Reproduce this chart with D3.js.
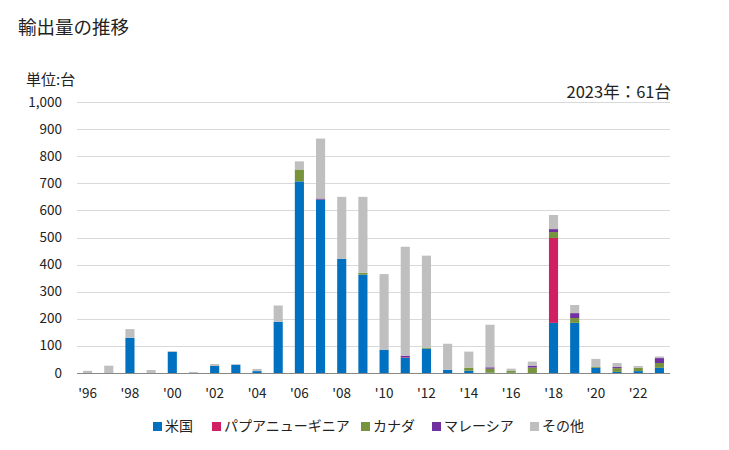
<!DOCTYPE html>
<html><head><meta charset="utf-8">
<script src="https://cdn.jsdelivr.net/npm/d3@7"></script>
<style>body{margin:0;background:#fff;font-family:"Noto Sans CJK JP","Noto Sans",sans-serif;}</style>
</head><body><svg id="c" width="729" height="450"></svg>
<script>
const years = ["1996","1997","1998","1999","2000","2001","2002","2003","2004","2005","2006","2007","2008","2009","2010","2011","2012","2013","2014","2015","2016","2017","2018","2019","2020","2021","2022","2023"];
const seriesNames = ["米国","パプアニューギニア","カナダ","マレーシア","その他"];
const colors = ["#0070C0","#D01F62","#77933C","#7030A0","#BFBFBF"];
const us       = [0,0,130,0,78,0,26,30,7,189,707,641,421,363,86,57,90,12,8,1,1,0,185,185,19,4,7,19];
const png      = [0,0,0,0,0,0,0,0,0,0,0,3,0,0,0,2,0,0,0,0,0,0,313,0,0,0,0,0];
const canada   = [0,0,0,0,0,0,0,0,0,0,44,0,0,7,0,0,4,0,12,15,8,20,22,18,3,14,12,18];
const malaysia = [0,0,0,0,0,0,0,0,0,0,0,0,0,0,0,5,0,0,0,5,0,7,11,18,0,4,0,18];
const other    = [8,27,32,11,3,4,7,3,8,60,30,221,229,280,279,402,339,96,59,157,7,15,52,30,30,15,7,6];
const yTicks = [0,100,200,300,400,500,600,700,800,900,1000];
const xTickYears = ["1996","1998","2000","2002","2004","2006","2008","2010","2012","2014","2016","2018","2020","2022"];

(function(){
const svg = d3.select("#c");
const pL = 77, pR = 670, pT = 102, pB = 373;
const rows = years.map((yr,i)=>({year:yr, "米国":us[i], "パプアニューギニア":png[i], "カナダ":canada[i], "マレーシア":malaysia[i], "その他":other[i]}));
const stack = d3.stack().keys(seriesNames)(rows);
const x = d3.scaleBand().domain(years).range([pL,pR]).paddingInner(0.57).paddingOuter(0.285);
const y = d3.scaleLinear().domain([0,1000]).range([pB,pT]);

svg.append("g").selectAll("line").data(yTicks.slice(1)).join("line")
  .attr("x1",pL).attr("x2",pR).attr("y1",d=>Math.round(y(d))+0.5).attr("y2",d=>Math.round(y(d))+0.5)
  .attr("stroke","#d9d9d9").attr("stroke-width",1);

svg.append("g").selectAll("text").data(yTicks).join("text")
  .attr("x",62).attr("y",d=>y(d)+4.5).attr("text-anchor","end")
  .attr("font-size",13.5).attr("fill","#222").text(d=>d3.format(",")(d));

svg.append("g").selectAll("g").data(stack).join("g").attr("fill",(d,i)=>colors[i])
  .selectAll("rect").data(d=>d.map(v=>({v,year:v.data.year}))).join("rect")
  .attr("x",d=>x(d.year)).attr("width",x.bandwidth())
  .attr("y",d=>y(d.v[1])).attr("height",d=>Math.max(0,y(d.v[0])-y(d.v[1])));

svg.append("line").attr("x1",pL).attr("x2",pR).attr("y1",pB+0.5).attr("y2",pB+0.5)
  .attr("stroke","#888").attr("stroke-width",1);

svg.append("g").selectAll("text").data(xTickYears).join("text")
  .attr("x",d=>x(d)+x.bandwidth()/2).attr("y",398).attr("text-anchor","middle")
  .attr("font-size",13.5).attr("fill","#222").text(d=>"'"+d.slice(2));

svg.append("text").attr("x",18).attr("y",34).attr("font-size",18.5).attr("fill","#222").text("輸出量の推移");
svg.append("text").attr("x",26).attr("y",85).attr("font-size",15).attr("fill","#222").text("単位:台");
svg.append("text").attr("x",671).attr("y",98).attr("text-anchor","end").attr("font-size",16.5).attr("fill","#222").text("2023年：61台");

const legX = [153,212,361,432,530];
const lg = svg.append("g").selectAll("g").data(seriesNames).join("g")
  .attr("transform",(d,i)=>`translate(${legX[i]},426)`);
lg.append("rect").attr("x",0).attr("y",-4).attr("width",9).attr("height",9).attr("fill",(d,i)=>colors[i]);
lg.append("text").attr("x",12).attr("y",5).attr("font-size",14).attr("fill","#222").text(d=>d);
})();
</script></body></html>
